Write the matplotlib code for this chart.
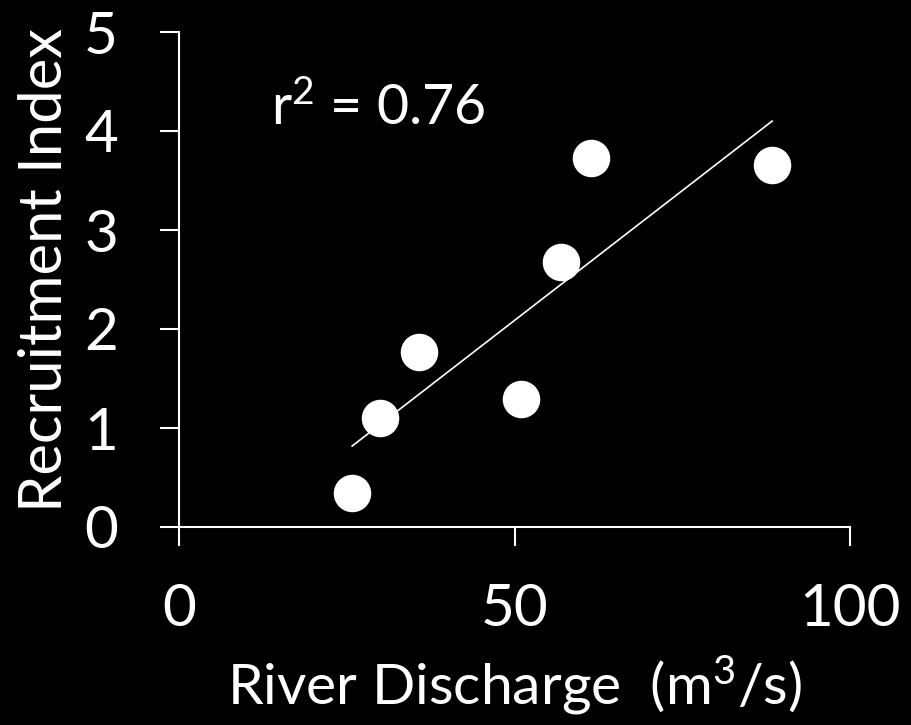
import numpy as np
import matplotlib.pyplot as plt

# river discharge (m3/s) vs recruitment index
discharge = [25.8, 30.0, 35.8, 51.0, 56.9, 61.4, 88.4]
recruitment = [0.34, 1.10, 1.77, 1.29, 2.68, 3.73, 3.66]
x_ticks = [0, 50, 100]
y_ticks = [0, 1, 2, 3, 4, 5]

plt.rcParams['font.family'] = ['Lato', 'DejaVu Sans']
plt.rcParams['mathtext.fontset'] = 'custom'
plt.rcParams['mathtext.rm'] = 'Lato'
plt.rcParams['mathtext.default'] = 'regular'

fig = plt.figure(figsize=(9.12, 7.25), dpi=100, facecolor='black')
ax = fig.add_axes([179/912, 1 - 527/725, (850 - 179)/912, (527 - 32)/725])
ax.set_facecolor('black')

# least squares fit over the observed range
x = np.array(discharge)
y = np.array(recruitment)
slope, intercept = np.polyfit(x, y, 1)
r2 = np.corrcoef(x, y)[0, 1] ** 2
xs = np.array([x.min(), x.max()])
ax.plot(xs, slope * xs + intercept, color='white', lw=1.2, zorder=2)

ax.plot(x, y, 'o', ms=26, mfc='white', mec='white', zorder=3, clip_on=False)

ax.text(13.7, 4.06, f'r$^2$ = {r2:.2f}', color='white', fontsize=40,
        va='baseline')

ax.set_xlim(0, 100)
ax.set_ylim(0, 5)
ax.set_xticks(x_ticks)
ax.set_yticks(y_ticks)
for s in ['top', 'right']:
    ax.spines[s].set_visible(False)
for s in ['left', 'bottom']:
    ax.spines[s].set_color('white')
    ax.spines[s].set_linewidth(1.5)
ax.tick_params(colors='white', direction='out', length=14, width=1.5, labelsize=42)
ax.tick_params(axis='x', pad=26)
ax.tick_params(axis='y', pad=30)

ax.set_xlabel('River Discharge  (m$^3$/s)', color='white', fontsize=41, labelpad=13)
ax.set_ylabel('Recruitment Index', color='white', fontsize=43, labelpad=9)
ax.yaxis.label.set_y(0.52)

fig.savefig('out.png', dpi=100, facecolor='black')
